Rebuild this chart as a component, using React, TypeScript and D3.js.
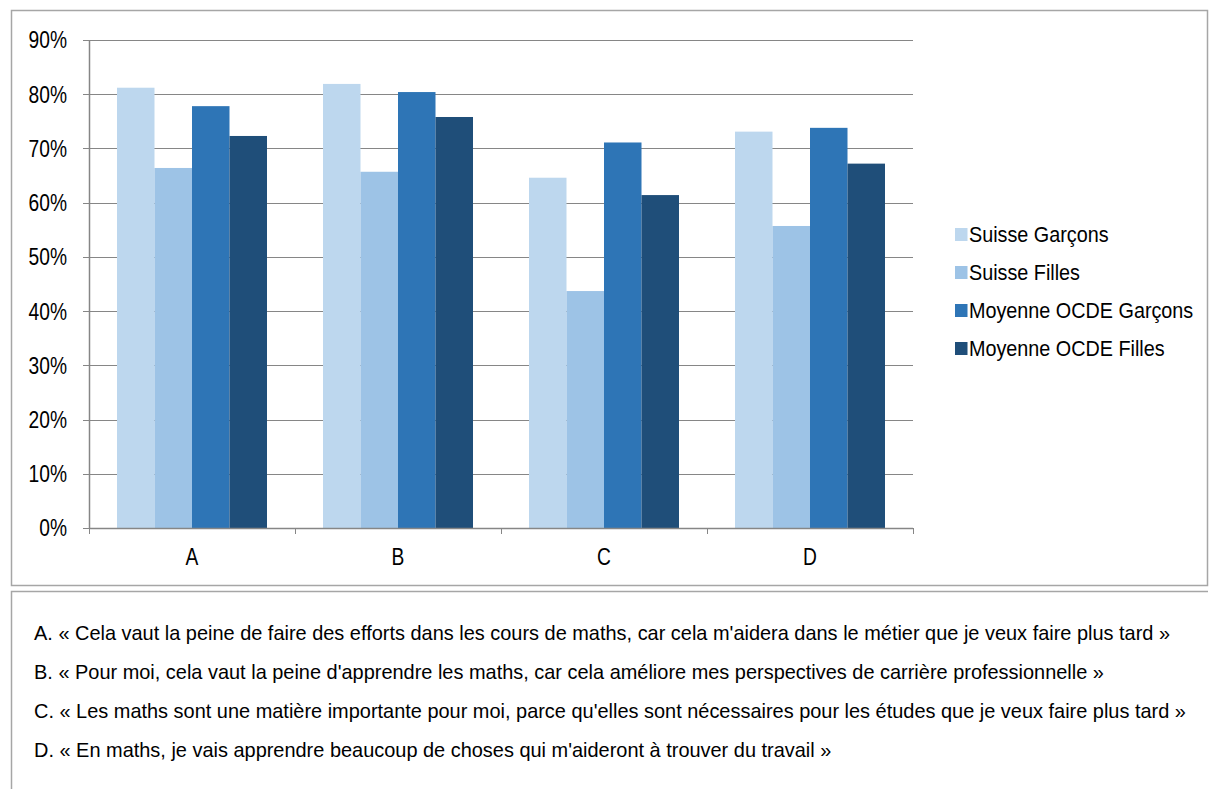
import React from "react";
import * as d3 from "d3";

const categories = ["A", "B", "C", "D"];
const seriesNames = ["Suisse Garçons", "Suisse Filles", "Moyenne OCDE Garçons", "Moyenne OCDE Filles"];
const suisseGarcons = [81.2, 81.9, 64.6, 73.1];
const suisseFilles = [66.4, 65.7, 43.7, 55.7];
const ocdeGarcons = [77.8, 80.4, 71.1, 73.8];
const ocdeFilles = [72.3, 75.8, 61.4, 67.2];
const yTicks = [0, 10, 20, 30, 40, 50, 60, 70, 80, 90];
const notes = [
  "A. « Cela vaut la peine de faire des efforts dans les cours de maths, car cela m'aidera dans le métier que je veux faire plus tard »",
  "B. « Pour moi, cela vaut la peine d'apprendre les maths, car cela améliore mes perspectives de carrière professionnelle »",
  "C. « Les maths sont une matière importante pour moi, parce qu'elles sont nécessaires pour les études que je veux faire plus tard »",
  "D. « En maths, je vais apprendre beaucoup de choses qui m'aideront à trouver du travail »",
];
const colors = ["#BDD7EE", "#9DC3E6", "#2E75B6", "#1F4E79"];

export default function App() {
  const W = 1209, H = 789;
  const left = 89, right = 913, top = 40, bottom = 528;
  const series = [suisseGarcons, suisseFilles, ocdeGarcons, ocdeFilles];
  const x = d3.scaleBand<string>().domain(categories).range([left, right]).paddingInner(0).paddingOuter(0);
  const inner = d3.scaleBand<number>().domain([0, 1, 2, 3]).range([28, x.bandwidth() - 28]);
  const y = d3.scaleLinear().domain([0, 90]).range([bottom, top]);
  const font = "'Liberation Sans', Arial, sans-serif";
  return (
    <svg width={W} height={H} style={{ position: "absolute", left: 0, top: 0, display: "block" }}>
      <rect x={0} y={0} width={W} height={H} fill="#fff" />
      <rect x={11.5} y={10.5} width={1196} height={575} fill="none" stroke="#A6A6A6" strokeWidth={1.5} />
      <path d={`M11.5,${H}V591.5H1208`} fill="none" stroke="#A6A6A6" strokeWidth={1.5} />
      {yTicks.map((t) => (
        <g key={t}>
          <line x1={left - 6} x2={right} y1={Math.round(y(t)) + 0.5} y2={Math.round(y(t)) + 0.5} stroke="#868686" strokeWidth={1} />
          <text transform={`translate(67,${y(t)}) scale(0.8,1)`} dy="0.35em" textAnchor="end" fontFamily={font} fontSize={24} fill="#000">{t}%</text>
        </g>
      ))}
      {series.map((vals, si) =>
        vals.map((v, ci) => (
          <rect key={`${si}-${ci}`} x={(x(categories[ci]) as number) + (inner(si) as number)} y={y(v)} width={inner.bandwidth()} height={bottom - y(v)} fill={colors[si]} />
        ))
      )}
      <line x1={left + 0.5} x2={left + 0.5} y1={top} y2={bottom} stroke="#868686" strokeWidth={1.5} />
      <line x1={left} x2={right} y1={bottom + 0.5} y2={bottom + 0.5} stroke="#868686" strokeWidth={1.5} />
      {[...categories.map((c) => x(c) as number), right].map((px, i) => (
        <line key={i} x1={px + 0.5} x2={px + 0.5} y1={bottom} y2={bottom + 6} stroke="#868686" strokeWidth={1} />
      ))}
      {categories.map((c) => (
        <text key={c} transform={`translate(${(x(c) as number) + x.bandwidth() / 2},556.5) scale(0.8,1)`} dy="0.35em" textAnchor="middle" fontFamily={font} fontSize={24} fill="#000">{c}</text>
      ))}
      {seriesNames.map((n, i) => (
        <g key={n} transform={`translate(955, ${234.5 + i * 38})`}>
          <rect x={0} y={-6.5} width={12.5} height={13} fill={colors[i]} />
          <text transform="translate(14,0) scale(0.9,1)" dy="0.35em" fontFamily={font} fontSize={22} fill="#000">{n}</text>
        </g>
      ))}
      {notes.map((n, i) => (
        <text key={i} transform={`translate(34,${632.5 + i * 39}) scale(0.95,1)`} dy="0.35em" fontFamily={font} fontSize={21} fill="#000">{n}</text>
      ))}
    </svg>
  );
}
